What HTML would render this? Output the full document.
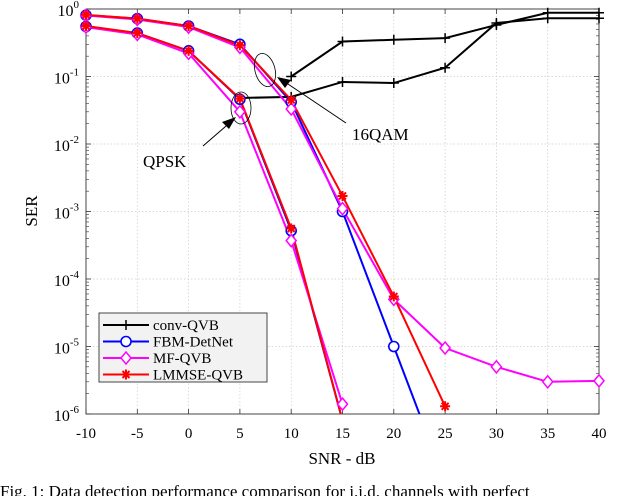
<!DOCTYPE html>
<html><head><meta charset="utf-8"><style>
body{margin:0;background:#fff;width:640px;height:496px;overflow:hidden;font-family:"Liberation Serif",serif}
svg text{font-family:"Liberation Serif",serif}
</style></head><body>
<svg id="chart" width="640" height="496" xmlns="http://www.w3.org/2000/svg">
<defs><clipPath id="clip"><rect x="86" y="9" width="513" height="405"/></clipPath></defs>
<g id="grid"></g><g id="axes"></g><g id="series" clip-path="url(#clip)"></g><g id="markers"></g>
<g id="ann">
<ellipse cx="241" cy="108" rx="10" ry="16" fill="none" stroke="#000" stroke-width="0.8"/>
<line x1="203" y1="146" x2="233" y2="120" stroke="#000" stroke-width="1"/>
<polygon points="236,117 222,122 229,129" fill="#000"/>
<text x="143" y="167" font-size="17">QPSK</text>
<ellipse cx="265" cy="70" rx="10" ry="17" transform="rotate(-15 265 70)" fill="none" stroke="#000" stroke-width="0.8"/>
<line x1="346" y1="123" x2="282" y2="80" stroke="#000" stroke-width="1"/>
<polygon points="277,77 291,80 285,88" fill="#000"/>
<text x="352" y="140" font-size="17">16QAM</text>
</g>
<text transform="translate(37 211) rotate(-90)" text-anchor="middle" font-size="17">SER</text>
<text x="342" y="464" text-anchor="middle" font-size="17">SNR - dB</text>
<text x="0" y="497" font-size="17">Fig. 1: Data detection performance comparison for i.i.d. channels with perfect</text>
<g id="legend"></g>
</svg>
<script>
const snr=[-10,-5,0,5,10,15,20,25,30,35,40];
const conv16=[null,null,null,null,0.1,0.33,0.35,0.37,0.58,0.88,0.88];
const convQ=[null,null,null,0.048,0.05,0.083,0.08,0.135,0.62,0.73,0.73];
const fbm16=[0.81,0.72,0.56,0.3,0.042,1.0e-3,1.0e-5,1e-7,null,null,null];
const fbmQ=[0.55,0.44,0.24,0.046,5.2e-4,8e-7,null,null,null,null,null];
const mf16=[0.8,0.7,0.54,0.27,0.033,1.1e-3,5e-5,9.5e-6,5e-6,3e-6,3.1e-6];
const mfQ=[0.54,0.42,0.22,0.03,3.7e-4,1.4e-6,null,null,null,null,null];
const lm16=[0.82,0.72,0.56,0.29,0.045,1.7e-3,5.5e-5,1.3e-6,null,null,null];
const lmQ=[0.56,0.44,0.24,0.047,5.6e-4,8e-7,null,null,null,null,null];
const xTicks=[-10,-5,0,5,10,15,20,25,30,35,40];
const yDecades=[0,-1,-2,-3,-4,-5,-6];
const NS="http://www.w3.org/2000/svg";
const X0=86,X1=599,Y0=9,Y1=414;
const xs=v=>X0+(v+10)/50*(X1-X0);
const ys=v=>Y0+(-Math.log10(v))/6*(Y1-Y0);
function mk(tag,attrs,parent){const e=document.createElementNS(NS,tag);for(const k in attrs)e.setAttribute(k,attrs[k]);parent.appendChild(e);return e;}
const grid=document.getElementById('grid'),axes=document.getElementById('axes');
xTicks.forEach(t=>{const x=xs(t);
 const g=mk('line',{x1:x,x2:x,y1:Y0,y2:Y1,stroke:'#ccc','stroke-width':0.7,'stroke-dasharray':'1.5,2'},grid);
 
 mk('line',{x1:x,x2:x,y1:Y1,y2:Y1-5,stroke:'#333','stroke-width':0.8},axes);
 mk('line',{x1:x,x2:x,y1:Y0,y2:Y0+5,stroke:'#333','stroke-width':0.8},axes);
 const t2=mk('text',{x:x,y:438,'text-anchor':'middle','font-size':15},axes);t2.textContent=String(t);
 
});
yDecades.forEach(d=>{const y=ys(Math.pow(10,d));
 const g=mk('line',{x1:X0,x2:X1,y1:y,y2:y,stroke:'#ccc','stroke-width':0.7,'stroke-dasharray':'1.5,2'},grid);
 
 mk('line',{x1:X0,x2:X0+5,y1:y,y2:y,stroke:'#333','stroke-width':0.8},axes);
 mk('line',{x1:X1,x2:X1-5,y1:y,y2:y,stroke:'#333','stroke-width':0.8},axes);
 if(d>-6)for(let m=2;m<10;m++){const yy=ys(m*Math.pow(10,d-1));
  mk('line',{x1:X0,x2:X0+3,y1:yy,y2:yy,stroke:'#333','stroke-width':0.6},axes);
  mk('line',{x1:X1,x2:X1-3,y1:yy,y2:yy,stroke:'#333','stroke-width':0.6},axes);}
 const t=mk('text',{x:79,y:y+7,'text-anchor':'end','font-size':16},axes);
 
 t.innerHTML='10<tspan dy="-8" font-size="11">'+d+'</tspan>';
});
const fr=mk('rect',{x:X0,y:Y0,width:X1-X0,height:Y1-Y0,fill:'none',stroke:'#333','stroke-width':0.9},axes);

const ser=document.getElementById('series'),mkg=document.getElementById('markers');
function marker(type,x,y,c,p){
 if(type==='plus'){mk('path',{d:`M${x-5} ${y}H${x+5}M${x} ${y-5}V${y+5}`,stroke:c,'stroke-width':1.5},p);}
 else if(type==='circle'){mk('circle',{cx:x,cy:y,r:5,fill:'#fff',stroke:c,'stroke-width':1.6},p);}
 else if(type==='diamond'){mk('path',{d:`M${x} ${y-6}L${x+5} ${y}L${x} ${y+6}L${x-5} ${y}Z`,fill:'#fff',stroke:c,'stroke-width':1.5},p);}
 else {mk('path',{d:`M${x-5} ${y}H${x+5}M${x} ${y-5}V${y+5}M${x-3.5} ${y-3.5}L${x+3.5} ${y+3.5}M${x-3.5} ${y+3.5}L${x+3.5} ${y-3.5}`,stroke:c,'stroke-width':2},p);}
}
function draw(vals,color,type,name){
 const pts=[];snr.forEach((s,i)=>{if(vals[i]!=null)pts.push([xs(s),ys(vals[i])]);});
 const pl=mk('polyline',{points:pts.map(p=>p.join(',')).join(' '),fill:'none',stroke:color,'stroke-width':2},ser);
 
 
 pts.forEach(p=>{if(p[0]>=X0-1&&p[0]<=X1+1&&p[1]<=Y1+1&&p[1]>=Y0-1)marker(type,p[0],p[1],color,mkg);});
}
draw(conv16,'#000','plus','conv-qvb-16qam-line');draw(convQ,'#000','plus','conv-qvb-qpsk-line');
draw(fbm16,'#0000ff','circle','fbm-detnet-16qam-line');draw(fbmQ,'#0000ff','circle','fbm-detnet-qpsk-line');
draw(mf16,'#ff00ff','diamond','mf-qvb-16qam-line');draw(mfQ,'#ff00ff','diamond','mf-qvb-qpsk-line');
draw(lm16,'#ff0000','star','lmmse-qvb-16qam-line');draw(lmQ,'#ff0000','star','lmmse-qvb-qpsk-line');
const lg=document.getElementById('legend');
mk('rect',{x:99,y:313,width:168,height:69,fill:'#f2f2f2',stroke:'#333','stroke-width':0.9},lg);
[['conv-QVB','#000','plus'],['FBM-DetNet','#0000ff','circle'],['MF-QVB','#ff00ff','diamond'],['LMMSE-QVB','#ff0000','star']].forEach((e,i)=>{
 const y=325+i*16.5;
 const g=mk('g',{},lg);
 
 
 mk('line',{x1:103,x2:149,y1:y,y2:y,stroke:e[1],'stroke-width':2},g);
 marker(e[2],126,y,e[1],g);
 const t=mk('text',{x:153,y:y+5,'font-size':15},g);t.textContent=e[0];
});
</script>
</body></html>
